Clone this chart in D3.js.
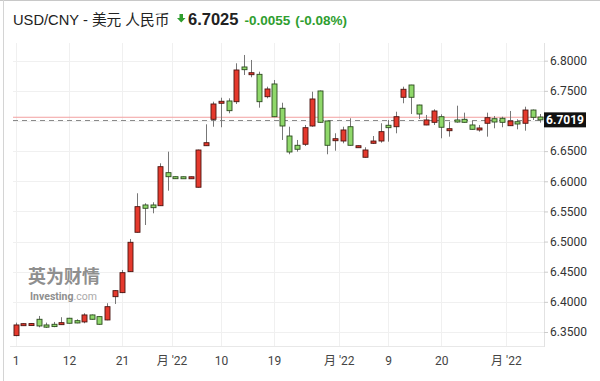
<!DOCTYPE html>
<html>
<head>
  <meta charset="utf-8">
  <title>USD/CNY candles</title>
  <style>
    body { margin: 0; background: #fff; }
    svg text { font-family: Roboto, "Liberation Sans", sans-serif; }
  </style>
</head>
<body>
  <div id="chart"></div>

  <script src="https://d3js.org/d3.v7.min.js"></script>
  <script>
    // OHLC per trading day (red = up, green = down)
    const opens = [
      6.3440, 6.3612, 6.3615, 6.3711, 6.3617, 6.3628, 6.3622, 6.3728, 6.3688, 6.3667,
      6.3783, 6.3755, 6.3700, 6.4086, 6.4153, 6.4501, 6.5154, 6.5607, 6.5607, 6.5595,
      6.6143, 6.6076, 6.6075, 6.6045, 6.5901, 6.6590, 6.7028, 6.7294, 6.7332, 6.7320,
      6.7896, 6.7768, 6.7774, 6.7403, 6.7614, 6.7211, 6.6751, 6.6597, 6.6614, 6.6917,
      6.7498, 6.7000, 6.6673, 6.6668, 6.6905, 6.6564, 6.6398, 6.6630, 6.6668, 6.6929,
      6.6905, 6.7393, 6.7597, 6.7265, 6.6934, 6.6978, 6.7071, 6.6839, 6.7017, 6.7028,
      6.6934, 6.6851, 6.6962, 6.7038, 6.7045, 6.6922, 6.6988, 6.6962, 6.7182, 6.7066
    ];
    const highs = [
      6.3655, 6.3645, 6.3648, 6.3766, 6.3655, 6.3667, 6.3745, 6.3735, 6.3711, 6.3811,
      6.3790, 6.3760, 6.3977, 6.4195, 6.4529, 6.5043, 6.5801, 6.5635, 6.5652, 6.6298,
      6.6491, 6.6080, 6.6078, 6.6078, 6.6525, 6.6945, 6.7320, 6.7386, 6.7376, 6.7957,
      6.8095, 6.8012, 6.7818, 6.7569, 6.7680, 6.7303, 6.6905, 6.6685, 6.6934, 6.7486,
      6.7505, 6.7005, 6.6796, 6.6905, 6.7045, 6.6594, 6.6564, 6.6751, 6.6962, 6.7017,
      6.7154, 6.7569, 6.7600, 6.7270, 6.7100, 6.7194, 6.7111, 6.6988, 6.7254, 6.7138,
      6.7000, 6.6934, 6.7138, 6.7083, 6.7071, 6.7166, 6.7028, 6.7237, 6.7190, 6.7116
    ];
    const lows = [
      6.3430, 6.3608, 6.3610, 6.3578, 6.3568, 6.3580, 6.3618, 6.3640, 6.3645, 6.3645,
      6.3705, 6.3620, 6.3695, 6.3965, 6.4145, 6.4495, 6.5150, 6.5275, 6.5469, 6.5590,
      6.5844, 6.6040, 6.6042, 6.6042, 6.5895, 6.6585, 6.6905, 6.6896, 6.7128, 6.7282,
      6.7763, 6.7725, 6.7221, 6.7376, 6.7065, 6.6685, 6.6448, 6.6491, 6.6585, 6.6905,
      6.6970, 6.6448, 6.6507, 6.6630, 6.6592, 6.6560, 6.6394, 6.6619, 6.6640, 6.6657,
      6.6796, 6.7294, 6.7116, 6.7033, 6.6930, 6.6934, 6.6713, 6.6740, 6.6972, 6.6972,
      6.6858, 6.6823, 6.6740, 6.6879, 6.6896, 6.6918, 6.6862, 6.6839, 6.7017, 6.6972
    ];
    const closes = [
      6.3617, 6.3638, 6.3640, 6.3600, 6.3580, 6.3590, 6.3655, 6.3645, 6.3650, 6.3783,
      6.3711, 6.3628, 6.3920, 6.4186, 6.4484, 6.4988, 6.5579, 6.5552, 6.5562, 6.6242,
      6.6076, 6.6045, 6.6045, 6.6075, 6.6519, 6.6640, 6.7282, 6.7327, 6.7171, 6.7846,
      6.7851, 6.7801, 6.7320, 6.7531, 6.7071, 6.6917, 6.6486, 6.6531, 6.6889, 6.7365,
      6.6978, 6.6597, 6.6706, 6.6851, 6.6597, 6.6590, 6.6519, 6.6668, 6.6823, 6.6889,
      6.7071, 6.7526, 6.7393, 6.7116, 6.7017, 6.7166, 6.6896, 6.6872, 6.6983, 6.6978,
      6.6862, 6.6884, 6.7055, 6.6983, 6.6978, 6.7000, 6.6950, 6.7182, 6.7061, 6.7019
    ];

    const xTickIdx = [0, 7, 14, 20.5, 27, 34, 42.5, 49, 56, 64.5];
    const xTickLabels = ["1", "12", "21", "月 '22", "10", "19", "月 '22", "9", "20", "月 '22"];
    const yTicks = [6.35, 6.40, 6.45, 6.50, 6.55, 6.60, 6.65, 6.70, 6.75, 6.80];

    const lastPrice = 6.7019;
    const refLine = 6.7062;

    const title = "USD/CNY - 美元 人民币";
    const quote = "6.7025";
    const change = "-0.0055";
    const changePct = "(-0.08%)";

    const width = 600, height = 381;
    const plot = { left: 13, right: 544, top: 43, bottom: 347 };

    const svg = d3.select("#chart")
      .append("svg")
      .attr("width", width)
      .attr("height", height);

    svg.append("rect").attr("width", width).attr("height", height).attr("fill", "#fff");

    // widget border (top + left)
    svg.append("line").attr("x1", 0).attr("x2", width).attr("y1", 0.5).attr("y2", 0.5)
      .attr("stroke", "#c8c8c8");
    svg.append("line").attr("x1", 3.5).attr("x2", 3.5).attr("y1", 0).attr("y2", height)
      .attr("stroke", "#d4d4d4");

    const x = d3.scaleLinear().domain([0, 69]).range([15.7, 540.1]);
    const y = d3.scaleLinear().domain([6.35, 6.80]).range([332, 60.7]);

    // grid
    svg.append("g").selectAll("line")
      .data(yTicks)
      .join("line")
      .attr("x1", plot.left).attr("x2", plot.right)
      .attr("y1", d => Math.round(y(d)) + 0.5).attr("y2", d => Math.round(y(d)) + 0.5)
      .attr("stroke", "#f0f0f0");

    svg.append("g").selectAll("line")
      .data(xTickIdx)
      .join("line")
      .attr("x1", d => Math.round(x(d)) + 0.5).attr("x2", d => Math.round(x(d)) + 0.5)
      .attr("y1", plot.top).attr("y2", plot.bottom)
      .attr("stroke", "#f0f0f0");

    // plot edges
    svg.append("line").attr("x1", plot.right + 0.5).attr("x2", plot.right + 0.5)
      .attr("y1", plot.top).attr("y2", plot.bottom).attr("stroke", "#e2e2e2");
    svg.append("line").attr("x1", 10).attr("x2", plot.right)
      .attr("y1", plot.bottom - 0.5).attr("y2", plot.bottom - 0.5).attr("stroke", "#e8e8e8");

    // watermark
    svg.append("text")
      .attr("x", 28).attr("y", 283)
      .attr("font-size", 18).attr("font-weight", "bold")
      .attr("fill", "#8f8f8f")
      .style("font-family", "'Noto Sans CJK SC', sans-serif")
      .text("英为财情");
    const wm = svg.append("text")
      .attr("x", 30).attr("y", 300)
      .attr("font-size", 10.5)
      .attr("fill", "#8f8f8f");
    wm.append("tspan").attr("font-weight", "bold").text("Investing");
    wm.append("tspan").attr("fill", "#aaa").text(".com");

    // reference lines
    svg.append("line")
      .attr("x1", plot.left).attr("x2", plot.right)
      .attr("y1", y(refLine)).attr("y2", y(refLine))
      .attr("stroke", "#f2a0a0").attr("stroke-width", 1);
    svg.append("line")
      .attr("x1", plot.left).attr("x2", plot.right)
      .attr("y1", Math.round(y(lastPrice)) + 0.5).attr("y2", Math.round(y(lastPrice)) + 0.5)
      .attr("stroke", "#8a8a8a").attr("stroke-dasharray", "5,4");

    // candles
    const idx = d3.range(opens.length);
    const up = i => closes[i] >= opens[i];

    svg.append("g").selectAll("line")
      .data(idx)
      .join("line")
      .attr("x1", i => Math.round(x(i)) + 0.5).attr("x2", i => Math.round(x(i)) + 0.5)
      .attr("y1", i => y(highs[i])).attr("y2", i => y(lows[i]))
      .attr("stroke", "#777");

    svg.append("g").selectAll("rect")
      .data(idx)
      .join("rect")
      .attr("x", i => Math.round(x(i)) - 2)
      .attr("width", 5)
      .attr("y", i => y(Math.max(opens[i], closes[i])))
      .attr("height", i => Math.max(2, Math.abs(y(opens[i]) - y(closes[i]))))
      .attr("fill", i => up(i) ? "#e5392d" : "#8fd86a")
      .attr("stroke", i => up(i) ? "#4a1410" : "#2c4a1f")
      .attr("stroke-width", 0.9);

    // y axis (the 6.7000 label sits under the last-price tag, so it is left blank)
    const yAxis = d3.axisRight(y)
      .tickValues(yTicks)
      .tickSize(4)
      .tickPadding(2)
      .tickFormat(d => Math.abs(d - 6.70) < 1e-9 ? "" : d3.format(".4f")(d));

    const gy = svg.append("g")
      .attr("transform", `translate(${plot.right},0)`)
      .call(yAxis);
    gy.select(".domain").remove();
    gy.selectAll(".tick line").attr("stroke", "#ccc");
    gy.selectAll(".tick text").attr("font-size", 12).attr("fill", "#333")
      .style("font-family", "Roboto, sans-serif");

    // x axis
    const xAxis = d3.axisBottom(x)
      .tickValues(xTickIdx)
      .tickSize(0)
      .tickPadding(9)
      .tickFormat((d, i) => xTickLabels[i]);

    const gx = svg.append("g")
      .attr("transform", `translate(0,${plot.bottom})`)
      .call(xAxis);
    gx.select(".domain").remove();
    gx.selectAll(".tick text").attr("font-size", 12).attr("fill", "#444")
      .style("font-family", "Roboto, 'Noto Sans CJK SC', sans-serif");

    // last price tag
    const tagY = y(lastPrice);
    svg.append("rect")
      .attr("x", plot.right).attr("y", tagY - 7.5)
      .attr("width", 42).attr("height", 15)
      .attr("fill", "#111");
    svg.append("text")
      .attr("x", plot.right + 21).attr("y", tagY)
      .attr("dy", "0.36em")
      .attr("text-anchor", "middle")
      .attr("font-size", 12).attr("font-weight", "bold")
      .attr("fill", "#fff")
      .text(d3.format(".4f")(lastPrice));

    // header
    const hdr = svg.append("text")
      .attr("x", 13).attr("y", 25)
      .style("font-family", "'Liberation Sans', 'Noto Sans CJK SC', sans-serif");
    hdr.append("tspan").attr("font-size", 14.7).attr("fill", "#222").text(title);

    svg.append("path")
      .attr("d", "M179.5,14 h3.5 v4 h2.5 l-4.25,4.5 l-4.25,-4.5 h2.5 z")
      .attr("fill", "#2f9e2f");

    const hdr2 = svg.append("text")
      .attr("x", 188).attr("y", 25)
      .style("font-family", "'Liberation Sans', sans-serif");
    hdr2.append("tspan").attr("font-size", 16.5).attr("font-weight", "bold").attr("fill", "#222")
      .text(quote);
    hdr2.append("tspan").attr("dx", 6).attr("font-size", 13.5).attr("font-weight", "bold")
      .attr("fill", "#2f9e2f").text(change);
    hdr2.append("tspan").attr("dx", 5).attr("font-size", 13.5).attr("font-weight", "bold")
      .attr("fill", "#2f9e2f").text(changePct);
  </script>
</body>
</html>
